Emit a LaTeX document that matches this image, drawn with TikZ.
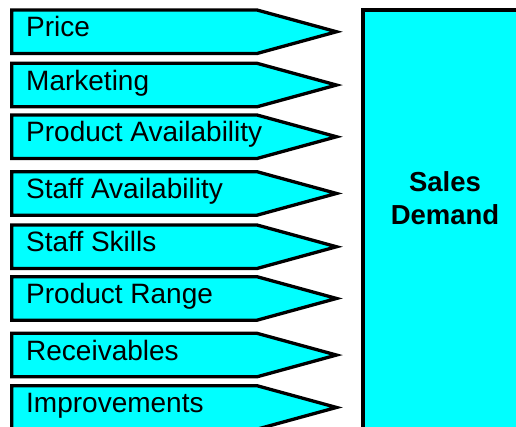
\documentclass[tikz,border=0pt]{standalone}
\usepackage{fontspec}
\setmainfont{Liberation Sans}
\definecolor{aqua}{RGB}{0,255,255}
\begin{document}
\begin{tikzpicture}[x=1pt,y=-1pt,
  factorshape/.style={fill=aqua, draw=black, line width=3.3pt, line join=miter},
  factorlabel/.style={anchor=base west, inner sep=0pt, font=\fontsize{28}{33}\selectfont},
  targetshape/.style={fill=aqua, draw=black, line width=3.5pt},
  targetlabel/.style={align=center, inner sep=0pt, font=\fontsize{27.5}{33}\selectfont\bfseries}]
\useasboundingbox (0,0) rectangle (516,427);
\clip (0,0) rectangle (516,427);
% pointed boxes: top edge / label / name
\foreach \t/\txt/\nm in {10/Price/price,
                         63.3/Marketing/marketing,
                         115/Product Availability/prodavail,
                         171.7/Staff Availability/staffavail,
                         225/Staff Skills/staffskills,
                         276.7/Product Range/prodrange,
                         333.3/Receivables/receivables,
                         385.7/Improvements/improvements}{
  \draw[factorshape] (11.7,\t) -- (257,\t) -- (336.5,{\t+21.75})
        -- (257,{\t+43.5}) -- (11.7,{\t+43.5}) -- cycle;
  \node[factorlabel] (\nm) at (26,{\t+27}) {\txt};
}
% result box
\draw[targetshape] (363,10) rectangle (540,450);
\node[targetlabel] (demand) at (445,198.6) {Sales\\Demand};
\end{tikzpicture}
\end{document}
